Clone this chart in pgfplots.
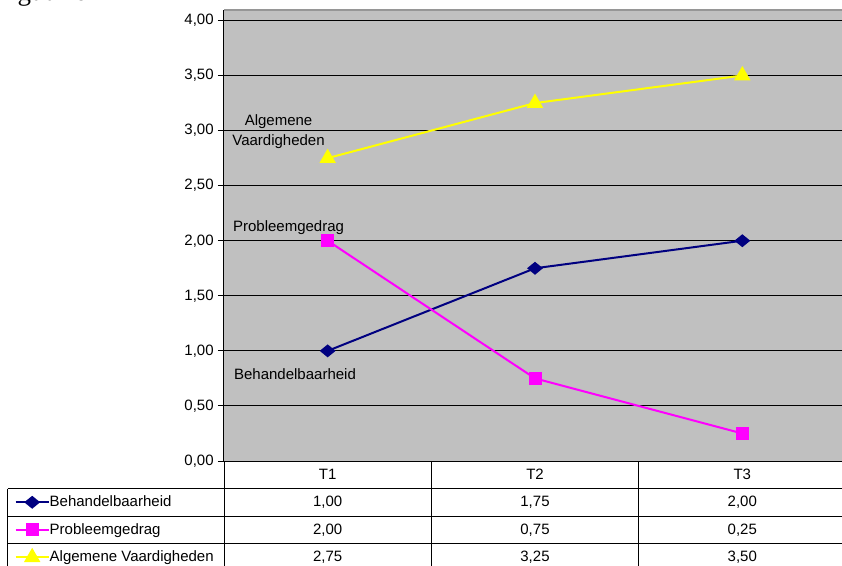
\documentclass[border=0pt]{standalone}
\usepackage{pgfplots}
\pgfplotsset{compat=1.18}
\usepackage{fontspec}
\setmainfont{Liberation Sans}
\newfontfamily\figfont{Liberation Serif}
\definecolor{xlnavy}{RGB}{0,0,128}
\definecolor{xlmagenta}{RGB}{255,0,255}
\definecolor{xlyellow}{RGB}{255,255,0}
\definecolor{plotgray}{RGB}{192,192,192}
\definecolor{bordergray}{RGB}{150,150,150}
\newcommand{\xlfont}{\fontsize{15}{20}\selectfont}

% T1, T2, T3 as 0, 1, 2
\pgfplotstableread{
x y
0 1.00
1 1.75
2 2.00
}\behandel
\pgfplotstableread{
x y
0 2.00
1 0.75
2 0.25
}\probleem
\pgfplotstableread{
x y
0 2.75
1 3.25
2 3.50
}\algemeen

\begin{document}
\begin{tikzpicture}[font=\xlfont]
\begin{axis}[
  at={(0pt,0pt)}, anchor=south west,
  scale only axis, width=622pt, height=451pt,
  xmin=-0.5, xmax=2.5, ymin=0, ymax=4.095,
  axis lines=left,
  axis line style={-, black, line width=1pt},
  axis background/.style={fill=plotgray},
  xtick=\empty,
  ytick={0,0.5,1,1.5,2,2.5,3,3.5,4},
  ymajorgrids,
  grid style={black, line width=1pt},
  tick align=outside, major tick length=6pt,
  ytick style={black, line width=1pt},
  tick label style={font=\xlfont},
  yticklabel style={/pgf/number format/.cd, fixed, fixed zerofill,
    precision=2, use comma, assume math mode=true},
  line width=2pt,
  legend image code/.code={%
    \draw[mark repeat=2,mark phase=2] plot coordinates {(0pt,0pt) (16.5pt,0pt) (33pt,0pt)};},
  legend style={at={(axis description cs:-0.3365,-0.061)}, anchor=north west,
    draw=none, fill=none, inner sep=0pt, outer sep=0pt, row sep=0pt,
    font=\xlfont,
    nodes={inner sep=0pt, minimum height=27.5pt, font=\xlfont},
    /tikz/every even column/.append style={column sep=5pt}},
  legend cell align=left,
]
\addplot[xlnavy, mark=diamond*, mark size=6.5pt, mark options={xscale=1.3, yscale=0.8}] table {\behandel};
\addlegendentry{Behandelbaarheid}
\addplot[xlmagenta, mark=square*, mark size=5.5pt] table {\probleem};
\addlegendentry{Probleemgedrag}
\addplot[xlyellow, mark=triangle*, mark size=7.5pt] table {\algemeen};
\addlegendentry{Algemene Vaardigheden}

\draw[bordergray, line width=1.5pt] (rel axis cs:0,1) -- (rel axis cs:1,1);
\node[align=center, inner sep=0pt] at (axis cs:-0.237,2.995) {Algemene\\Vaardigheden};
\node[anchor=west, inner sep=0pt] at (axis cs:-0.461,2.12) {Probleemgedrag};
\node[anchor=west, inner sep=0pt] at (axis cs:-0.456,0.79) {Behandelbaarheid};
\end{axis}

% data table under the plot
\begin{scope}[line width=1pt]
\foreach \yy in {-27.5,-55,-82.5}
  \draw (-216pt,\yy pt) -- (622pt,\yy pt);
\draw (-216pt,-27.5pt) -- (-216pt,-110pt);
\foreach \xx in {0,207.5,414.5,622}
  \draw (\xx pt,0pt) -- (\xx pt,-110pt);
\end{scope}
\foreach \xx/\t in {103.6/T1,311/T2,518.3/T3}
  \node at (\xx pt,-13.5pt) {\t};
\foreach \xx/\a/\b/\c in {103.6/{1,00}/{2,00}/{2,75},311/{1,75}/{0,75}/{3,25},518.3/{2,00}/{0,25}/{3,50}}{
  \node at (\xx pt,-41.25pt) {\a};
  \node at (\xx pt,-68.75pt) {\b};
  \node at (\xx pt,-96.25pt) {\c};
}

\node[anchor=base west, inner sep=0pt, font=\figfont\fontsize{27}{30}\selectfont] at (-229pt,460pt) {Figuur 6};

\pgfresetboundingbox
\path[use as bounding box] (-224pt,-104pt) rectangle (618pt,461pt);
\end{tikzpicture}
\end{document}
